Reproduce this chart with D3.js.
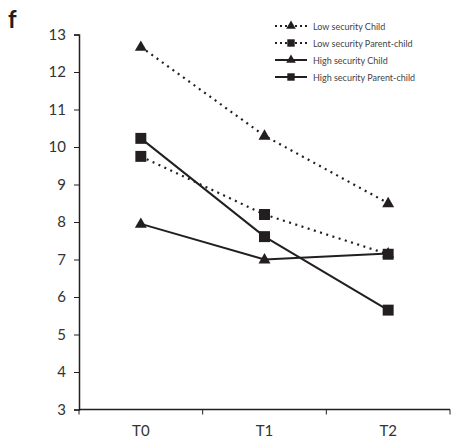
<!DOCTYPE html>
<html>
<head>
<meta charset="utf-8">
<script src="https://cdn.jsdelivr.net/npm/d3@7"></script>
<style>
  html, body { margin: 0; padding: 0; background: #fff; }
  svg { display: block; }
  text { font-family: Lato, "Open Sans", sans-serif; fill: #333; }
</style>
</head>
<body>
<svg id="chart" width="451" height="441"></svg>
<script>
// Time points and group means
const timepoints = ["T0", "T1", "T2"];
const lowChild = [12.67, 10.3, 8.5];
const lowParentChild = [9.75, 8.2, 7.14];
const highChild = [7.95, 7.0, 7.16];
const highParentChild = [10.23, 7.61, 5.65];
const yTicks = [3, 4, 5, 6, 7, 8, 9, 10, 11, 12, 13];

const seriesList = [
  { name: "Low security Child", values: lowChild, dotted: true, symbol: d3.symbolTriangle },
  { name: "Low security Parent-child", values: lowParentChild, dotted: true, symbol: d3.symbolSquare },
  { name: "High security Child", values: highChild, dotted: false, symbol: d3.symbolTriangle },
  { name: "High security Parent-child", values: highParentChild, dotted: false, symbol: d3.symbolSquare }
];

const ink = "#231f20";
const svg = d3.select("#chart");
const margin = { left: 79, right: 1, top: 34.5, bottom: 31.5 };
const W = 451, H = 441;

const x = d3.scaleBand().domain(timepoints).range([margin.left, W - margin.right]);
const y = d3.scaleLinear().domain([3, 13]).range([H - margin.bottom, margin.top]);

// Y axis
const yAxis = svg.append("g")
  .attr("transform", `translate(${margin.left},0)`)
  .call(d3.axisLeft(y).tickValues(yTicks).tickSize(5).tickPadding(8).tickFormat(d3.format("d")));
yAxis.selectAll("text").attr("font-size", 15).style("fill", "#333");

// X axis with ticks at category boundaries
const xAxisG = svg.append("g").attr("transform", `translate(0,${y(3)})`);
xAxisG.append("line")
  .attr("x1", margin.left).attr("x2", W - margin.right)
  .attr("stroke", ink).attr("stroke-width", 1.5);
const bounds = timepoints.map(t => x(t)).concat([x.range()[1]]);
xAxisG.selectAll(".bt").data(bounds).join("line")
  .attr("x1", d => d).attr("x2", d => d).attr("y1", 0).attr("y2", 5)
  .attr("stroke", ink).attr("stroke-width", 1);
xAxisG.selectAll(".lbl").data(timepoints).join("text")
  .attr("x", d => x(d) + x.bandwidth() / 2)
  .attr("y", 26)
  .attr("text-anchor", "middle")
  .attr("font-size", 15)
  .text(d => d);

yAxis.select(".domain").attr("stroke", ink).attr("stroke-width", 1.5);
yAxis.selectAll(".tick line").attr("stroke", ink);

const cx = t => x(t) + x.bandwidth() / 2;
const line = d3.line().x((d, i) => cx(timepoints[i])).y(d => y(d));

const sym = (s, size) => d3.symbol().type(s).size(size)();
const symSize = s => s === d3.symbolTriangle ? 62 : 120;

seriesList.forEach(s => {
  svg.append("path")
    .attr("d", line(s.values))
    .attr("fill", "none")
    .attr("stroke", ink)
    .attr("stroke-width", s.dotted ? 2.2 : 2)
    .attr("stroke-dasharray", s.dotted ? "2,4.5" : null);
});
// Markers: triangles first so squares sit on top where they coincide
const order = seriesList.filter(s => s.symbol === d3.symbolTriangle)
  .concat(seriesList.filter(s => s.symbol === d3.symbolSquare));
order.forEach(s => {
  svg.selectAll(null).data(s.values).join("path")
    .attr("d", sym(s.symbol, symSize(s.symbol)))
    .attr("transform", (d, i) => `translate(${cx(timepoints[i])},${y(d) + (s.symbol === d3.symbolTriangle ? 0.5 : 0)})`)
    .attr("fill", ink);
});

// Legend
const legend = svg.append("g").attr("transform", "translate(275,26)");
seriesList.forEach((s, i) => {
  const g = legend.append("g").attr("transform", `translate(0,${i * 17})`);
  g.append("line").attr("x1", 0).attr("x2", 32).attr("y1", 0).attr("y2", 0)
    .attr("stroke", ink).attr("stroke-width", 2)
    .attr("stroke-dasharray", s.dotted ? "2,3" : null);
  g.append("path").attr("d", sym(s.symbol, s.symbol === d3.symbolTriangle ? 40 : 55))
    .attr("transform", "translate(16,0)").attr("fill", ink);
  g.append("text").attr("x", 38).attr("y", 3.5).attr("font-size", 9).style("fill", "#444").text(s.name);
});

// Panel letter
svg.append("text").attr("x", 8).attr("y", 28).attr("font-size", 24).attr("font-weight", 700).style("fill", ink).text("f");
</script>
</body>
</html>
